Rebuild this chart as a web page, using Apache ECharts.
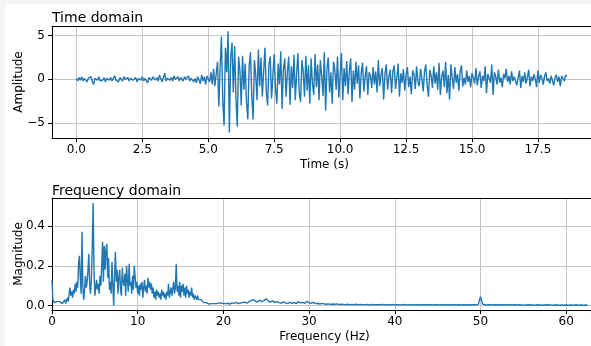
<!DOCTYPE html>
<html>
<head>
<meta charset="utf-8">
<script src="https://cdn.jsdelivr.net/npm/echarts@6/dist/echarts.min.js"></script>
<style>
  html, body { margin: 0; padding: 0; background: #fff; overflow: hidden; }
  #chart { width: 591px; height: 346px; }
  #edge { position: absolute; left: 0; top: 0; width: 591px; height: 346px; box-sizing: border-box;
          border-left: 5px solid #f5f5f5; border-top: 4px solid #f5f5f5; pointer-events: none; }
</style>
</head>
<body>
<div id="chart"></div>
<div id="edge"></div>
<script>
// Recorded signal, one sample every 0.05 s
const sampleStep = 0.05;
const amplitude = [
  0.1, -0.2, 0.2, -0.1, 0.3, -0.2, 0.1, 0.2, -0.3, 0.1, -0.1, 0.3, -0.2, -0.6, 0.1, 0.2, -0.1, 0.3, -0.2, 0.0,
  -0.1, 0.2, -0.3, 0.1, 0.3, -0.1, 0.2, -0.2, 0.1, 0.4, -0.1, 0.0, -0.3, 0.2, 0.1, -0.2, 0.3, 0.0, -0.1, 0.2,
  -0.2, 0.1, 0.3, -0.1, 0.0, 0.2, -0.3, 0.1, 0.2, -0.1, 0.3, -0.2, 0.1, 0.0, -0.4, 0.2, 0.1, -0.1, 0.3, 0.2,
  -0.1, 0.2, -0.2, 0.5, 0.1, -0.3, 0.2, 0.7, -0.2, 0.1, 0.3, -0.1, 0.2, -0.2, 0.4, 0.0, -0.1, 0.3, -0.2, 0.2,
  0.1, -0.2, 0.3, 0.0, -0.1, 0.4, -0.2, 0.1, 0.2, -0.3, 0.1, -0.4, 0.3, 0.2, -0.5, 0.5, -0.2, 0.3, -0.6, 0.4,
  0.2, -0.3, 0.8, -0.6, 1.2, -0.8, 0.6, 2.0, -3.1, 1.4, 4.9, -2.5, -5.3, 3.6, 0.8, 5.5, -6.1, 2.4, 4.2, -1.5,
  3.8, -2.2, -5.4, 2.6, 1.0, -3.0, 2.7, -1.2, 1.8, -2.6, -4.6, 1.5, 3.1, -1.9, -4.6, 2.2, 0.5, -2.4, 3.4, -0.8,
  2.5, -2.0, 0.9, 3.6, -1.4, -3.0, 1.7, 2.6, -2.2, 0.4, 2.9, -1.1, -2.8, 1.8, -0.6, 3.2, -3.4, 1.2, 2.4, -2.0,
  0.8, 2.6, -2.9, 1.5, -1.0, 2.8, -2.4, 0.6, 3.0, -1.6, -2.6, 2.2, 0.9, -2.0, 2.7, -1.3, 1.6, -2.8, 2.4, -0.5,
  -1.8, 2.9, -0.9, 1.7, -2.4, 2.2, 0.4, -1.9, 3.1, -3.6, 1.2, 2.5, -1.5, 0.8, -2.8, 2.0, 1.1, -1.2, 2.6, -2.1,
  0.5, 3.0, -2.4, 1.3, -0.8, 2.1, -1.7, 0.9, 2.4, -2.6, 1.0, -1.2, 2.0, -0.5, 1.6, -2.2, 0.7, 1.9, -1.4, 0.3,
  1.5, -1.8, 0.8, 0.4, -1.0, 1.4, -0.6, 0.9, -1.5, 2.2, -0.8, 0.5, 1.3, -2.3, 0.6, 1.7, -1.2, 0.3, 1.1, -1.6,
  0.9, 1.6, -1.1, 0.2, 1.8, -2.0, 0.7, -0.4, 1.2, -1.3, 0.5, 1.4, -0.9, 0.3, -1.7, 1.0, 0.6, -1.1, 1.5, -0.3,
  -0.8, 1.2, 0.1, -1.4, 0.9, 1.7, -0.7, -2.0, 1.1, 0.4, -1.0, 1.5, -0.5, 0.8, -1.2, 1.9, -1.8, 0.3, 1.0, -0.9,
  2.0, -1.6, 0.5, -2.3, 1.7, 0.2, -1.1, 1.4, -0.4, 0.6, -1.3, 0.9, 1.6, -0.8, 0.2, -0.6, 1.0, -0.3, 0.4, -0.9,
  0.7, 0.2, -0.5, 1.3, -0.7, 0.3, 0.9, -1.0, 0.4, -0.2, 1.5, -1.6, 0.6, 0.1, -0.4, 1.7, -1.8, 0.8, 0.3, -0.6,
  1.1, -0.4, 0.2, -0.9, 0.6, 0.1, 1.2, -0.3, 0.4, -0.6, 0.9, -0.2, 0.3, 0.5, -0.7, 0.2, 1.0, -1.0, 0.4, -0.3,
  0.8, -0.5, 0.2, 1.1, -0.8, 0.3, -0.2, 0.6, 0.0, -0.9, 1.0, -0.4, 0.5, 0.2, -0.6, 0.3, 0.8, -0.2, 0.1, -0.5,
  0.4, 0.6, -0.7, 0.2, 0.5, -0.3, 0.3, -0.8, 0.4, 0.1, -0.2, 0.5, 0.3
];

// Spectrum magnitude: fine bins 0-20 Hz, coarser bins 20.25-62.5 Hz
const lowBandStart = 0;
const lowBandStep = 0.1;
const lowBandMagnitude = [
  0.13, 0.03, 0.02, 0.015, 0.025, 0.01, 0.02, 0.015, 0.01, 0.02,
  0.012, 0.025, 0.01, 0.02, 0.015, 0.03, 0.01, 0.025, 0.04, 0.02,
  0.06, 0.09, 0.05, 0.07, 0.04, 0.08, 0.06, 0.11, 0.07, 0.12,
  0.09, 0.21, 0.25, 0.14, 0.06, 0.37, 0.1, 0.03, 0.08, 0.15,
  0.09, 0.12, 0.18, 0.26, 0.1, 0.06, 0.14, 0.3, 0.515, 0.18,
  0.05, 0.09, 0.13, 0.08, 0.11, 0.06, 0.15, 0.1, 0.2, 0.32,
  0.12, 0.3, 0.18, 0.28, 0.31, 0.14, 0.24, 0.08, 0.12, 0.06,
  0.22, 0.1, 0.0, 0.15, 0.27, 0.12, 0.18, 0.06, 0.14, 0.18,
  0.08, 0.05, 0.19, 0.12, 0.1, 0.16, 0.05, 0.2, 0.13, 0.07,
  0.21, 0.1, 0.12, 0.06, 0.15, 0.08, 0.2, 0.19, 0.09, 0.12,
  0.06, 0.1, 0.05, 0.11, 0.08, 0.12, 0.04, 0.09, 0.13, 0.07,
  0.1, 0.06, 0.14, 0.09, 0.12, 0.08, 0.11, 0.06, 0.09, 0.04,
  0.07, 0.03, 0.08, 0.05, 0.07, 0.04, 0.06, 0.03, 0.08, 0.05,
  0.07, 0.04, 0.06, 0.03, 0.07, 0.05, 0.11, 0.04, 0.07, 0.09,
  0.05, 0.04, 0.12, 0.06, 0.09, 0.21, 0.07, 0.1, 0.05, 0.12,
  0.04, 0.1, 0.07, 0.11, 0.05, 0.09, 0.04, 0.1, 0.06, 0.08,
  0.04, 0.07, 0.05, 0.09, 0.04, 0.06, 0.03, 0.05, 0.04, 0.03,
  0.05, 0.03, 0.04, 0.02, 0.03, 0.02, 0.025, 0.015, 0.02, 0.01,
  0.015, 0.01, 0.012, 0.008, 0.01, 0.015, 0.01, 0.005, 0.012, 0.01,
  0.008, 0.012, 0.01, 0.006, 0.01, 0.014, 0.008, 0.01, 0.012, 0.009,
  0.015
];
const highBandStart = 20.25;
const highBandStep = 0.25;
const highBandMagnitude = [
  0.01, 0.012, 0.008, 0.014, 0.011, 0.016, 0.01, 0.013,
  0.015, 0.018, 0.012, 0.02, 0.025, 0.03, 0.022, 0.018,
  0.028, 0.02, 0.025, 0.035, 0.022, 0.018, 0.024, 0.016,
  0.02, 0.015, 0.012, 0.018, 0.014, 0.01, 0.016, 0.012,
  0.015, 0.01, 0.02, 0.013, 0.016, 0.012, 0.022, 0.014,
  0.012, 0.016, 0.01, 0.012, 0.008, 0.011, 0.009, 0.007,
  0.009, 0.006, 0.008, 0.007, 0.009, 0.005, 0.007, 0.006,
  0.005, 0.007, 0.004, 0.006, 0.005, 0.007, 0.004, 0.006,
  0.005, 0.004, 0.006, 0.003, 0.005, 0.006, 0.004, 0.005,
  0.004, 0.006, 0.005, 0.003, 0.005, 0.004, 0.006, 0.004,
  0.005, 0.003, 0.004, 0.006, 0.004, 0.003, 0.005, 0.004,
  0.003, 0.005, 0.004, 0.003, 0.004, 0.005, 0.003, 0.004,
  0.004, 0.003, 0.005, 0.004, 0.003, 0.004, 0.005, 0.003,
  0.004, 0.003, 0.004, 0.005, 0.003, 0.004, 0.003, 0.004,
  0.003, 0.004, 0.003, 0.004, 0.005, 0.004, 0.006, 0.045,
  0.008, 0.004, 0.003, 0.004, 0.005, 0.003, 0.004, 0.003,
  0.004, 0.003, 0.004, 0.003, 0.005, 0.004, 0.003, 0.004,
  0.003, 0.004, 0.003, 0.002, 0.004, 0.003, 0.004, 0.003,
  0.002, 0.003, 0.004, 0.003, 0.002, 0.003, 0.004, 0.003,
  0.003, 0.002, 0.003, 0.004, 0.002, 0.003, 0.002, 0.003,
  0.002, 0.003, 0.002, 0.003, 0.004, 0.002, 0.003, 0.002,
  0.003, 0.002
];

// Tick positions
const timeTicks = [0, 2.5, 5, 7.5, 10, 12.5, 15, 17.5];
const amplitudeTicks = [-5, 0, 5];
const freqTicks = [0, 10, 20, 30, 40, 50, 60];
const magnitudeTicks = [0, 0.2, 0.4];

const timeData = amplitude.map((v, i) => [+(i * sampleStep).toFixed(3), v]);
const freqData = lowBandMagnitude.map((v, i) => [+(lowBandStart + i * lowBandStep).toFixed(3), v])
  .concat(highBandMagnitude.map((v, i) => [+(highBandStart + i * highBandStep).toFixed(3), v]));

const FONT = 'DejaVu Sans';
const LINE = '#1f77b4';
const GRIDLINE = '#c4c4c4';
const FRAME = { show: true, onZero: false, lineStyle: { color: '#000', width: 1 } };

function axisBase(ticks, fmt, name, gap, margin) {
  return {
    type: 'value',
    name: name,
    nameLocation: 'middle',
    nameGap: gap,
    nameMoveOverlap: false,
    nameTextStyle: { fontFamily: FONT, fontSize: 12, color: '#000' },
    axisLine: FRAME,
    axisTick: { show: true, length: 4, lineStyle: { color: '#000', width: 1 }, customValues: ticks },
    axisLabel: { customValues: ticks, formatter: fmt, margin: margin,
                 fontFamily: FONT, fontSize: 12, color: '#000' },
    splitLine: { show: true, lineStyle: { color: GRIDLINE, width: 1 } }
  };
}

// Upper edge of each panel's box
function topEdge(gridIndex, min, max) {
  return {
    type: 'value', gridIndex: gridIndex, position: 'top', min: min, max: max,
    axisLine: FRAME, axisTick: { show: false }, axisLabel: { show: false }, splitLine: { show: false }
  };
}

const minusFmt = v => (v < 0 ? '\u2212' + Math.abs(v) : String(v));

const timeRange = [-0.925, 19.74];
const freqRange = [0, 63.6];

// The right-hand side of each box runs past the canvas edge
const option = {
  animation: false,
  backgroundColor: '#fff',
  title: [
    { text: 'Time domain', left: 52, top: 11, padding: 0,
      textStyle: { fontFamily: FONT, fontSize: 14, fontWeight: 'normal', color: '#000' } },
    { text: 'Frequency domain', left: 52, top: 184, padding: 0,
      textStyle: { fontFamily: FONT, fontSize: 14, fontWeight: 'normal', color: '#000' } }
  ],
  grid: [
    { left: 52, top: 26, width: 545, height: 112, show: false, outerBoundsMode: 'none', containLabel: false },
    { left: 52, top: 198, width: 545, height: 112, show: false, outerBoundsMode: 'none', containLabel: false }
  ],
  xAxis: [
    Object.assign(axisBase(timeTicks, v => v.toFixed(1), 'Time (s)', 21, 6),
      { gridIndex: 0, position: 'bottom', min: timeRange[0], max: timeRange[1] }),
    Object.assign(axisBase(freqTicks, v => String(v), 'Frequency (Hz)', 21, 6),
      { gridIndex: 1, position: 'bottom', min: freqRange[0], max: freqRange[1] }),
    topEdge(0, timeRange[0], timeRange[1]),
    topEdge(1, freqRange[0], freqRange[1])
  ],
  yAxis: [
    Object.assign(axisBase(amplitudeTicks, minusFmt, 'Amplitude', 27, 7),
      { gridIndex: 0, position: 'left', min: -6.72, max: 6.1 }),
    Object.assign(axisBase(magnitudeTicks, v => v.toFixed(1), 'Magnitude', 27, 7),
      { gridIndex: 1, position: 'left', min: -0.022, max: 0.54 })
  ],
  series: [
    { type: 'line', xAxisIndex: 0, yAxisIndex: 0, data: timeData, showSymbol: false, symbol: 'none',
      lineStyle: { color: LINE, width: 1.4 }, silent: true },
    { type: 'line', xAxisIndex: 1, yAxisIndex: 1, data: freqData, showSymbol: false, symbol: 'none',
      lineStyle: { color: LINE, width: 1.4 }, silent: true }
  ]
};

const chart = echarts.init(document.getElementById('chart'), null, { renderer: 'canvas' });
chart.setOption(option);
</script>
</body>
</html>
